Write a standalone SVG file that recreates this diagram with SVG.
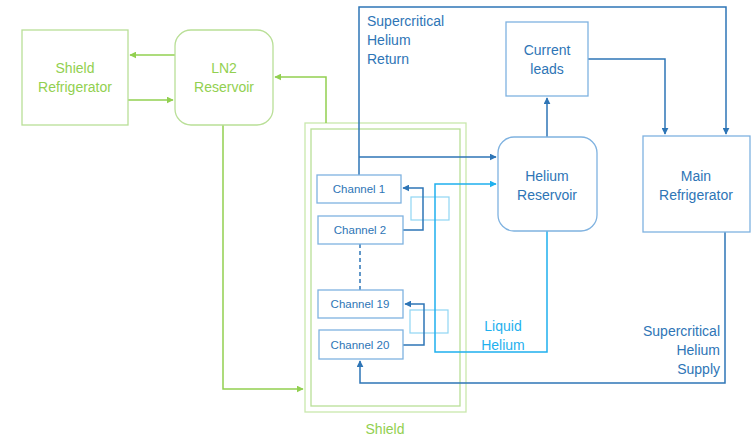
<svg xmlns="http://www.w3.org/2000/svg" width="752" height="436" viewBox="0 0 752 436">
<style>
text{font-family:"Liberation Sans",Arial,sans-serif}
.g{fill:#fff;stroke:#b9df97;stroke-width:1.3}
.gt{fill:#92d050;font-size:14px;text-anchor:middle}
.b{fill:#fff;stroke:#7fb2e0;stroke-width:1.3}
.bt{fill:#2e75b6;font-size:14px;text-anchor:middle}
.ct{fill:#2e75b6;font-size:11.5px;text-anchor:middle}
.gl{fill:none;stroke:#92d050;stroke-width:1.5}
.bl{fill:none;stroke:#2e75b6;stroke-width:1.5}
.ll{fill:none;stroke:#1fb0ee;stroke-width:1.5}
</style>
<defs>
<marker id="ag" viewBox="0 0 10 10" refX="9" refY="5" markerWidth="7" markerHeight="7" orient="auto" markerUnits="userSpaceOnUse"><path d="M0,0L10,5L0,10z" fill="#92d050"/></marker>
<marker id="ab" viewBox="0 0 10 10" refX="9" refY="5" markerWidth="7" markerHeight="7" orient="auto" markerUnits="userSpaceOnUse"><path d="M0,0L10,5L0,10z" fill="#2e75b6"/></marker>
<marker id="al" viewBox="0 0 10 10" refX="9" refY="5" markerWidth="7" markerHeight="7" orient="auto" markerUnits="userSpaceOnUse"><path d="M0,0L10,5L0,10z" fill="#1fb0ee"/></marker>
</defs>
<g id="shield">
<rect x="305" y="123" width="161" height="289" fill="none" stroke="#c9e8ad" stroke-width="1.3"/>
<rect x="311" y="129" width="149" height="277" fill="none" stroke="#b9df97" stroke-width="1.3"/>
<text x="385" y="434" class="gt">Shield</text>
</g>
<g id="hx1"><rect x="411" y="197" width="38" height="23" fill="none" stroke="#8fd6f4" stroke-width="1.2"/></g>
<g id="hx2"><rect x="410" y="310" width="38" height="23" fill="none" stroke="#8fd6f4" stroke-width="1.2"/></g>
<g id="connectors">
<path class="gl" d="M175,55H130" marker-end="url(#ag)"/>
<path class="gl" d="M128,100H173" marker-end="url(#ag)"/>
<path class="gl" d="M326,123V77H275" marker-end="url(#ag)"/>
<path class="gl" d="M223,125V389H303" marker-end="url(#ag)"/>
<path class="bl" d="M359,175V7H726V134" marker-end="url(#ab)"/>
<path class="bl" d="M359,157H496" marker-end="url(#ab)"/>
<path class="bl" d="M547,137V98" marker-end="url(#ab)"/>
<path class="bl" d="M588,59H665V134" marker-end="url(#ab)"/>
<path class="bl" d="M725,232V383H360V361" marker-end="url(#ab)"/>
<path class="bl" d="M403,230H423V188H403" marker-end="url(#ab)"/>
<path class="bl" d="M403,345H424V304H405" marker-end="url(#ab)"/>
<path class="bl" d="M360,244V290" stroke-dasharray="4,3"/>
<path class="ll" d="M547,231V352H435V184H496" marker-end="url(#al)"/>
</g>
<g id="shield-refrigerator"><rect class="g" x="22" y="30" width="106" height="95"/><text class="gt" x="75" y="73">Shield</text><text class="gt" x="75" y="92">Refrigerator</text></g>
<g id="ln2-reservoir"><rect class="g" x="175" y="30" width="98" height="95" rx="16"/><text class="gt" x="224" y="73">LN2</text><text class="gt" x="224" y="92">Reservoir</text></g>
<g id="current-leads"><rect class="b" x="506" y="22" width="82" height="74" stroke="#9dc3e6"/><text class="bt" x="547" y="55">Current</text><text class="bt" x="547" y="74">leads</text></g>
<g id="helium-reservoir"><rect class="b" x="498" y="137" width="99" height="94" rx="16"/><text class="bt" x="547" y="181">Helium</text><text class="bt" x="547" y="200">Reservoir</text></g>
<g id="main-refrigerator"><rect class="b" x="643" y="136" width="107" height="96" stroke="#5b9bd5"/><text class="bt" x="696" y="181">Main</text><text class="bt" x="696" y="200">Refrigerator</text></g>
<g id="channel-1"><rect class="b" x="317" y="175" width="84" height="28"/><text class="ct" x="359" y="193">Channel 1</text></g>
<g id="channel-2"><rect class="b" x="318" y="216" width="85" height="28"/><text class="ct" x="360" y="234">Channel 2</text></g>
<g id="channel-19"><rect class="b" x="318" y="290" width="85" height="28"/><text class="ct" x="360" y="308">Channel 19</text></g>
<g id="channel-20"><rect class="b" x="319" y="330" width="84" height="29"/><text class="ct" x="360" y="349">Channel 20</text></g>
<g id="labels">
<text fill="#2e75b6" font-size="14" x="367" y="26">Supercritical</text>
<text fill="#2e75b6" font-size="14" x="367" y="45">Helium</text>
<text fill="#2e75b6" font-size="14" x="367" y="64">Return</text>
<text fill="#2e75b6" font-size="14" x="720" y="336" text-anchor="end">Supercritical</text>
<text fill="#2e75b6" font-size="14" x="720" y="355" text-anchor="end">Helium</text>
<text fill="#2e75b6" font-size="14" x="720" y="374" text-anchor="end">Supply</text>
<text fill="#1fb0ee" font-size="14" x="503" y="331" text-anchor="middle">Liquid</text>
<text fill="#1fb0ee" font-size="14" x="503" y="350" text-anchor="middle">Helium</text>
</g>
</svg>
